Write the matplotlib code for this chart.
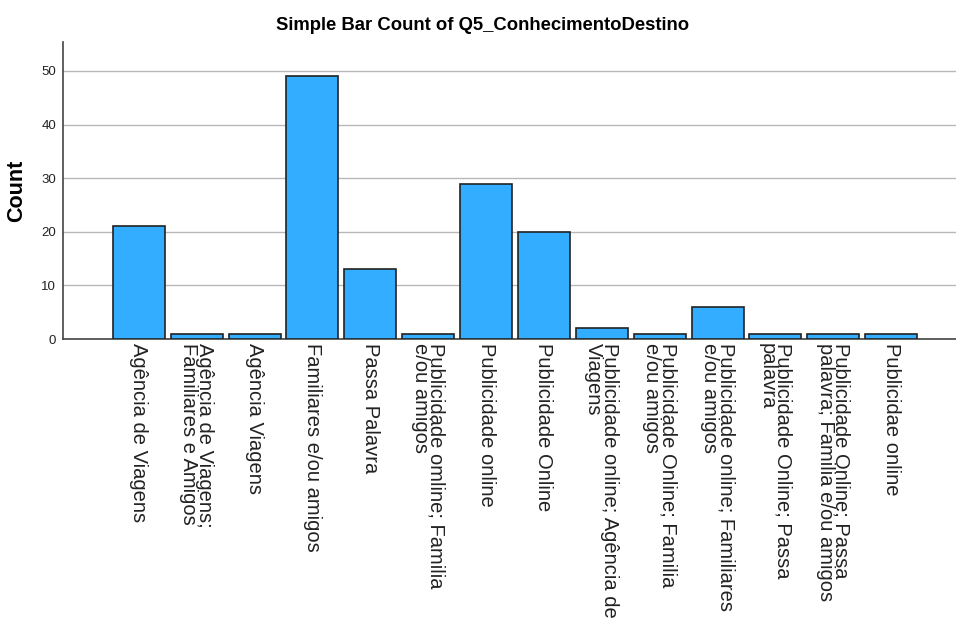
import matplotlib
matplotlib.use("Agg")
import matplotlib.pyplot as plt

plt.rcParams['font.family'] = ['Liberation Sans', 'DejaVu Sans']

categories = [
    "Agência de Viagens",
    "Agência de Viagens;\nFamiliares e Amigos",
    "Agência Viagens",
    "Familiares e/ou amigos",
    "Passa Palavra",
    "Publicidade omline; Familia\ne/ou amigos",
    "Publicidade online",
    "Publicidade Online",
    "Publicidade online; Agência de\nViagens",
    "Publicidade Online; Familia\ne/ou amigos",
    "Publicidade online; Familiares\ne/ou amigos",
    "Publicidade Online; Passa\npalavra",
    "Publicidade Online; Passa\npalavra; Familia e/ou amigos",
    "Publicidae online",
]
counts = [21, 1, 1, 49, 13, 1, 29, 20, 2, 1, 6, 1, 1, 1]
yticks = [0, 10, 20, 30, 40, 50]

fig = plt.figure(figsize=(9.56, 6.19), dpi=100)
ax = fig.add_axes([63/956, (619-339)/619, 1 - 63/956, (339-42)/619])

x = list(range(len(categories)))
ax.bar(x, counts, width=0.9, color='#33adff', edgecolor='#222222', linewidth=1.2, zorder=3)

ax.set_xlim(-1.31, 14.12)
ax.set_ylim(0, 55.4)
ax.set_yticks(yticks)
ax.yaxis.grid(True, color='#b8b8b8', linewidth=1.0, zorder=0)
ax.set_axisbelow(True)

ax.set_xticks(x)
ax.set_xticklabels(categories, rotation=270, ha='center', va='top',
                   multialignment='left', fontsize=14.5, color='#222222',
                   linespacing=0.8)
ax.tick_params(axis='x', length=0, pad=3)
ax.tick_params(axis='y', length=0, pad=5, labelsize=9.5, labelcolor='#222222')

for s in ['top', 'right']:
    ax.spines[s].set_visible(False)
for s in ['left', 'bottom']:
    ax.spines[s].set_color('#444444')
    ax.spines[s].set_linewidth(1.2)

ax.set_ylabel("Count", fontsize=15.5, fontweight='bold', labelpad=10)
fig.text(0.505, 0.958, "Simple Bar Count of Q5_ConhecimentoDestino",
         ha='center', va='center', fontsize=13.3, fontweight='bold')

fig.savefig("out.png", dpi=100)
